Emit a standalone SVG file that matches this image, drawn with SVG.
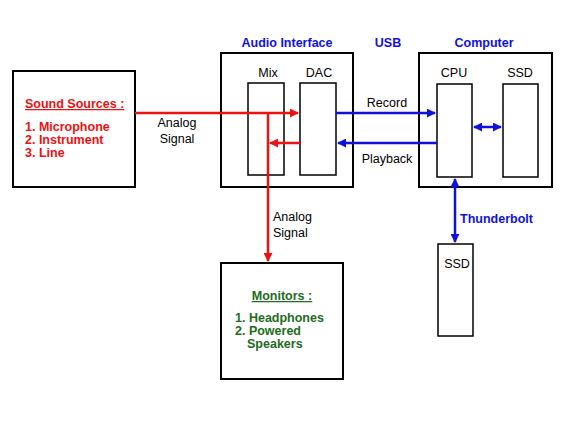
<svg xmlns="http://www.w3.org/2000/svg" width="572" height="429" viewBox="0 0 572 429">
<style>
.box{fill:#fff;stroke:#000;stroke-width:2}
.inner{fill:#fff;stroke:#000;stroke-width:1.5}
.t{font-family:"Liberation Sans",Arial,sans-serif;font-size:12.5px;fill:#000}
.bt{font-family:"Liberation Sans",Arial,sans-serif;font-size:12.5px;font-weight:bold;fill:#1010e0}
.rt{font-family:"Liberation Sans",Arial,sans-serif;font-size:12.5px;font-weight:bold;fill:#ee1111}
.gt{font-family:"Liberation Sans",Arial,sans-serif;font-size:12.5px;font-weight:bold;fill:#1e6b1e}
.red{stroke:#ee1111;stroke-width:2.5;fill:none}
.blue{stroke:#1010e0;stroke-width:2.5;fill:none}
</style>
<defs>
<marker id="ar" viewBox="0 0 10 10" refX="9" refY="5" markerWidth="3.6" markerHeight="3.6" orient="auto-start-reverse"><path d="M0,0 L10,5 L0,10 z" fill="#ee1111"/></marker>
<marker id="ab" viewBox="0 0 10 10" refX="9" refY="5" markerWidth="3.6" markerHeight="3.6" orient="auto-start-reverse"><path d="M0,0 L10,5 L0,10 z" fill="#1010e0"/></marker>
</defs>
<rect width="572" height="429" fill="#fff"/>
<g id="sound-sources">
<rect class="box" x="13" y="71" width="122" height="116"/>
<text class="rt" x="25" y="108" text-decoration="underline">Sound Sources :</text>
<text class="rt" x="25" y="131">1. Microphone</text>
<text class="rt" x="25" y="144">2. Instrument</text>
<text class="rt" x="25" y="157">3. Line</text>
</g>
<g id="audio-interface">
<text class="bt" x="287" y="47" text-anchor="middle">Audio Interface</text>
<rect class="box" x="221" y="53" width="132" height="134"/>
<text class="t" x="268" y="77" text-anchor="middle">Mix</text>
<text class="t" x="319" y="77" text-anchor="middle">DAC</text>
</g>
<g id="mix"><rect class="inner" x="248" y="83" width="36" height="92"/></g>
<g id="dac"><rect class="inner" x="300" y="83" width="36" height="92"/></g>
<g id="computer">
<text class="bt" x="484" y="47" text-anchor="middle">Computer</text>
<rect class="box" x="419" y="53" width="133" height="134"/>
<text class="t" x="454" y="77" text-anchor="middle">CPU</text>
<text class="t" x="520" y="77" text-anchor="middle">SSD</text>
</g>
<g id="cpu"><rect class="inner" x="437" y="84" width="35" height="93"/></g>
<g id="ssd-internal"><rect class="inner" x="503" y="84" width="35" height="93"/></g>
<g id="ssd-external">
<rect class="inner" x="438" y="244" width="35" height="92"/>
<text class="t" x="457" y="268" text-anchor="middle">SSD</text>
</g>
<g id="monitors">
<rect class="box" x="221" y="263" width="122" height="116"/>
<text class="gt" x="282" y="300" text-anchor="middle" text-decoration="underline">Monitors :</text>
<text class="gt" x="235" y="322">1. Headphones</text>
<text class="gt" x="235" y="335">2. Powered</text>
<text class="gt" x="247" y="348">Speakers</text>
</g>
<g id="connectors">
<path class="red" d="M135,113 H298" marker-end="url(#ar)"/>
<path class="red" d="M300,143 H270" marker-end="url(#ar)"/>
<path class="red" d="M268,113 V261" marker-end="url(#ar)"/>
<path class="blue" d="M336,113 H435" marker-end="url(#ab)"/>
<path class="blue" d="M437,143 H338" marker-end="url(#ab)"/>
<path class="blue" d="M474,127 H501" marker-start="url(#ab)" marker-end="url(#ab)"/>
<path class="blue" d="M455,179 V242" marker-start="url(#ab)" marker-end="url(#ab)"/>
<text class="t" x="177" y="127" text-anchor="middle">Analog</text>
<text class="t" x="177" y="143" text-anchor="middle">Signal</text>
<text class="bt" x="388" y="47" text-anchor="middle">USB</text>
<text class="t" x="387" y="107" text-anchor="middle">Record</text>
<text class="t" x="387" y="163" text-anchor="middle">Playback</text>
<text class="t" x="273" y="221">Analog</text>
<text class="t" x="273" y="237">Signal</text>
<text class="bt" x="460" y="223">Thunderbolt</text>
</g>
</svg>
